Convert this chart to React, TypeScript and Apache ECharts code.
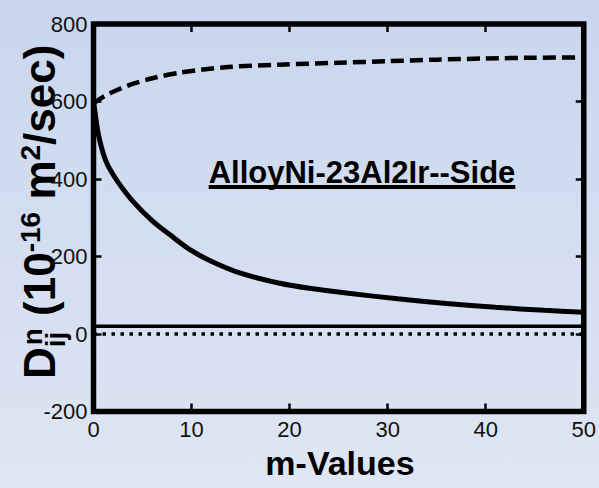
import React, { useEffect, useRef } from "react";
import * as echarts from "echarts";

// ---- data ----
const xMin = 0;
const xMax = 50;
const xStep = 10;
const yMin = -200;
const yMax = 800;
const yStep = 200;

const solidM = [0, 0.25, 0.5, 1, 1.5, 2.5, 4, 6, 8, 10, 12, 15, 19, 22, 26, 31, 36, 41, 46, 50];
const solidD = [600, 555, 515, 465, 433, 392, 343, 292, 252, 215, 188, 157, 131, 118, 105, 91, 79, 69, 61, 56];

const dashedM = [0, 1, 2, 3.7, 6, 8.7, 13.7, 19, 25, 30, 35, 40, 45, 50];
const dashedD = [595, 612, 625, 643, 660, 674, 689, 695, 700, 704, 708, 711, 713, 714];

const flatM = [0, 50];
const upperFlatD = [20, 20];
const zeroFlatD = [0, 0];

const annotation = "AlloyNi-23Al2Ir--Side";
const xTitle = "m-Values";

const FAMILY = '"Liberation Sans", Arial, Helvetica, sans-serif';

function measure(text: string, font: string): number {
  const c = document.createElement("canvas");
  const ctx = c.getContext("2d");
  if (!ctx) return text.length * 20;
  ctx.font = font;
  return ctx.measureText(text).width;
}

function pairs(xs: number[], ys: number[]) {
  return xs.map((x, i) => [x, ys[i]]);
}

export default function App() {
  const ref = useRef<HTMLDivElement>(null);

  useEffect(() => {
    document.body.style.margin = "0";
    if (!ref.current) return;
    const chart = echarts.init(ref.current, undefined, { renderer: "svg" });

    // y-axis title pieces, laid out along a rotated group
    const big = 44;
    const small = 28;
    const fBig = `bold ${big}px ${FAMILY}`;
    const fSmall = `bold ${small}px ${FAMILY}`;
    const mid = (baseline: number, size: number) => baseline - 0.35 * size;
    const pieces: any[] = [];
    let cx = 0;
    const addBig = (t: string) => {
      pieces.push({ type: "text", x: cx, y: mid(0, big), style: { text: t, font: fBig, fill: "#000", align: "left", verticalAlign: "middle" } });
      cx += measure(t, fBig);
    };
    const addSup = (t: string, base: number) => {
      pieces.push({ type: "text", x: cx, y: mid(base, small), style: { text: t, font: fSmall, fill: "#000", align: "left", verticalAlign: "middle" } });
      cx += measure(t, fSmall);
    };
    addBig("D");
    const dEnd = cx;
    pieces.push({ type: "text", x: dEnd, y: mid(10, small), style: { text: "ij", font: fSmall, fill: "#000", align: "left", verticalAlign: "middle" } });
    pieces.push({ type: "text", x: dEnd + 2, y: mid(-13, small), style: { text: "n", font: fSmall, fill: "#000", align: "left", verticalAlign: "middle" } });
    cx = dEnd + Math.max(measure("ij", fSmall), measure("n", fSmall) + 2);
    addBig(" (10");
    addSup("-16", -15);
    addBig(" m");
    addSup("2", -15);
    addBig("/sec)");

    const annFont = `bold 31px ${FAMILY}`;
    const annW = measure(annotation, annFont);
    const annCx = 362;

    const tickStyle = { show: true, inside: true, length: 8, lineStyle: { color: "#000", width: 2.5 } };
    const labelStyle = { color: "#111", fontSize: 22, fontFamily: FAMILY };
    const hiddenLine = { show: false, onZero: false };

    chart.setOption({
      animation: false,
      backgroundColor: "transparent",
      grid: {
        left: 93.5,
        right: 10,
        top: 24,
        bottom: 76.5,
        show: true,
        borderColor: "#000",
        borderWidth: 5.5,
        backgroundColor: "transparent",
      },
      xAxis: [
        {
          type: "value", min: xMin, max: xMax, interval: xStep, position: "bottom",
          axisLine: hiddenLine, axisTick: tickStyle, splitLine: { show: false },
          axisLabel: { ...labelStyle, margin: 7 },
        },
        {
          type: "value", min: xMin, max: xMax, interval: xStep, position: "top",
          axisLine: hiddenLine, axisTick: tickStyle, splitLine: { show: false },
          axisLabel: { show: false },
        },
      ],
      yAxis: [
        {
          type: "value", min: yMin, max: yMax, interval: yStep, position: "left",
          axisLine: hiddenLine, axisTick: tickStyle, splitLine: { show: false },
          axisLabel: { ...labelStyle, margin: 6 },
        },
        {
          type: "value", min: yMin, max: yMax, interval: yStep, position: "right",
          axisLine: hiddenLine, axisTick: tickStyle, splitLine: { show: false },
          axisLabel: { show: false },
        },
      ],
      series: [
        {
          type: "line", data: pairs(flatM, zeroFlatD), symbol: "none",
          lineStyle: { color: "#000", width: 3.5, type: [3.5, 5.5] },
        },
        {
          type: "line", data: pairs(flatM, upperFlatD), symbol: "none",
          lineStyle: { color: "#000", width: 3.5, type: "solid" },
        },
        {
          type: "line", data: pairs(dashedM, dashedD), symbol: "none", smooth: 0.3,
          lineStyle: { color: "#000", width: 4.5, type: [13, 6] },
        },
        {
          type: "line", data: pairs(solidM, solidD), symbol: "none", smooth: 0.3,
          lineStyle: { color: "#000", width: 5 },
        },
      ],
      graphic: [
        {
          type: "group", x: 55, y: 379, rotation: Math.PI / 2, children: pieces,
        },
        {
          type: "text", x: annCx, y: 172,
          style: { text: annotation, font: annFont, fill: "#000", align: "center", verticalAlign: "middle" },
        },
        {
          type: "rect", shape: { x: annCx - annW / 2, y: 185, width: annW, height: 4 },
          style: { fill: "#000" },
        },
        {
          type: "text", x: 340, y: 463,
          style: { text: xTitle, font: `bold 34px ${FAMILY}`, fill: "#000", align: "center", verticalAlign: "middle" },
        },
      ],
    });

    return () => chart.dispose();
  }, []);

  return (
    <div
      style={{
        width: 599,
        height: 488,
        background: "linear-gradient(180deg, #c8d6ee 0%, #d4def1 50%, #dfe6f4 100%)",
      }}
    >
      <div ref={ref} style={{ width: 599, height: 488 }} />
    </div>
  );
}
